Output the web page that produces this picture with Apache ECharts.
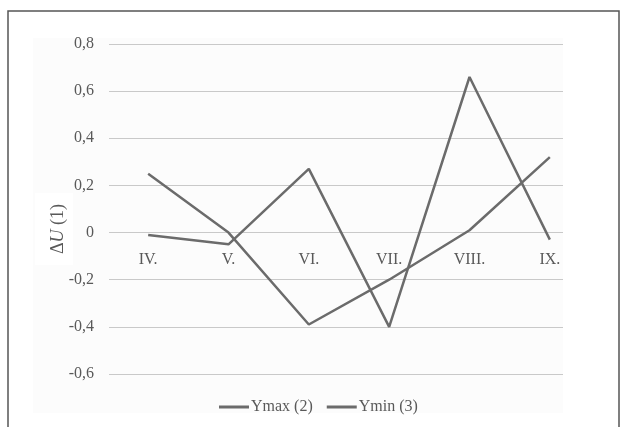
<!DOCTYPE html>
<html><head><meta charset="utf-8">
<script src="https://cdn.jsdelivr.net/npm/echarts@6/dist/echarts.min.js"></script>
<style>html,body{margin:0;padding:0;background:#fff}#c{width:627px;height:427px}</style>
</head><body><div id="c"></div>
<script>
const categories = ['IV.', 'V.', 'VI.', 'VII.', 'VIII.', 'IX.'];
const ymaxValues = [-0.01, -0.05, 0.27, -0.40, 0.66, -0.03];
const yminValues = [0.25, 0.00, -0.39, -0.20, 0.01, 0.32];
const seriesNames = ['Ymax (2)', 'Ymin (3)'];
const yMin = -0.6, yMax = 0.8, yStep = 0.2;

const FONT = 'Liberation Serif';
const TXT = '#595959';
const LINE = '#6b6b6b';
const GRID_TOP = 44, GRID_BOTTOM = 53, H = 427;
const plotH = H - GRID_TOP - GRID_BOTTOM;
const zeroOffset = -(plotH * (0 - yMin) / (yMax - yMin));

const chart = echarts.init(document.getElementById('c'), null, {renderer: 'canvas'});
const fmt = v => { const r = Math.round(v * 10) / 10; return r === 0 ? '0' : String(r).replace('.', ','); };

chart.setOption({
  animation: false,
  backgroundColor: '#ffffff',
  graphic: [
    {type: 'rect', z: -10, shape: {x: 33, y: 38, width: 530, height: 375}, style: {fill: '#fcfcfc'}},
    {type: 'rect', z: -9, shape: {x: 35, y: 193, width: 38, height: 72}, style: {fill: '#ffffff'}},
    {type: 'rect', z: 100, shape: {x: 8, y: 11, width: 611, height: 430}, style: {fill: 'none', stroke: '#555555', lineWidth: 1.5}},
    {type: 'text', z: 50, x: 58, y: 229, rotation: Math.PI / 2,
      style: {text: '{a|Δ}{i|U}{a| (1)}', align: 'center', verticalAlign: 'middle',
        rich: {a: {fontFamily: FONT, fontSize: 18, fill: TXT, color: TXT},
               i: {fontFamily: FONT, fontSize: 18, fontStyle: 'italic', fill: TXT, color: TXT}}}}
  ],
  grid: [
    {left: 109, right: 64, top: GRID_TOP, bottom: GRID_BOTTOM},
    {left: 108, right: 37, top: GRID_TOP, bottom: GRID_BOTTOM}
  ],
  xAxis: [
    {gridIndex: 0, type: 'category', data: categories, show: false},
    {gridIndex: 1, type: 'category', data: categories, boundaryGap: true, position: 'bottom', offset: zeroOffset,
      axisLine: {show: false, onZero: false}, axisTick: {show: false},
      axisLabel: {margin: 19, fontFamily: FONT, fontSize: 16, color: TXT}}
  ],
  yAxis: [
    {gridIndex: 0, type: 'value', min: yMin, max: yMax, interval: yStep,
      axisLine: {show: false}, axisTick: {show: false},
      axisLabel: {margin: 15, fontFamily: FONT, fontSize: 16, color: TXT, formatter: fmt},
      splitLine: {lineStyle: {color: '#c9c9c9', width: 1}}},
    {gridIndex: 1, type: 'value', min: yMin, max: yMax, interval: yStep,
      axisLine: {show: false}, axisTick: {show: false}, axisLabel: {show: false}, splitLine: {show: false}}
  ],
  legend: {
    left: 214, top: 394, itemWidth: 30, itemHeight: 3, itemGap: 14, icon: 'rect',
    textStyle: {fontFamily: FONT, fontSize: 16, color: TXT, padding: [0, 0, 0, -3]},
    data: seriesNames
  },
  series: [
    {name: seriesNames[0], type: 'line', xAxisIndex: 1, yAxisIndex: 1, data: ymaxValues,
      symbol: 'none', lineStyle: {color: LINE, width: 2.5}, itemStyle: {color: LINE}},
    {name: seriesNames[1], type: 'line', xAxisIndex: 1, yAxisIndex: 1, data: yminValues,
      symbol: 'none', lineStyle: {color: LINE, width: 2.5}, itemStyle: {color: LINE}}
  ]
});
</script></body></html>
